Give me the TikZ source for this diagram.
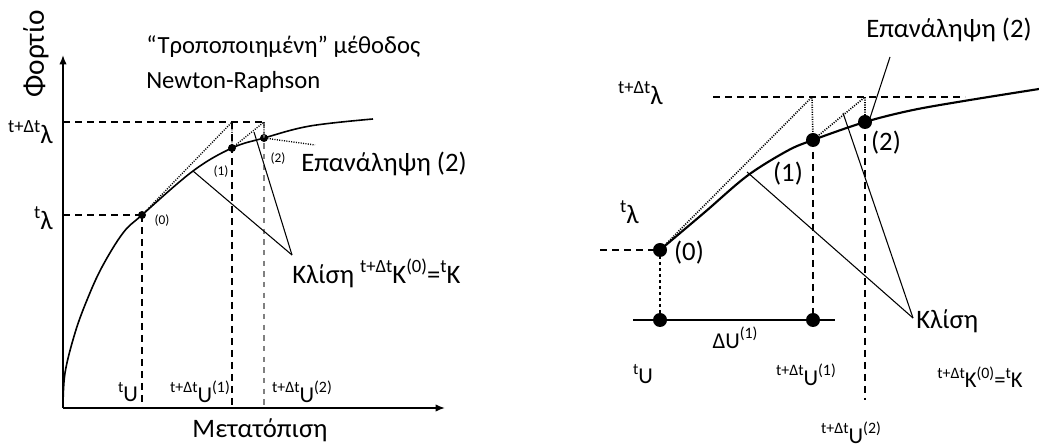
\documentclass[tikz,border=0pt]{standalone}
\usepackage{fontspec}
\setmainfont{Carlito}
\usetikzlibrary{arrows.meta}
\newcommand\sps[1]{\raisebox{0.42em}{\scalebox{0.7}{#1}}}
\begin{document}
\begin{tikzpicture}[x=0.75pt,y=-0.75pt,
  axisline/.style={line width=1.1pt,-{Latex[length=7pt,width=5.5pt]}},
  curveline/.style={line width=1.2pt},
  dsh/.style={line width=1pt,dash pattern=on 5pt off 4pt},
  dshlight/.style={line width=0.8pt,gray,dash pattern=on 4pt off 4pt},
  dotline/.style={line width=1pt,dash pattern=on 0.8pt off 1pt},
  shortdsh/.style={line width=1.4pt,dash pattern=on 2.5pt off 2pt},
  leader/.style={line width=0.8pt},
  dotS/.style={circle,fill,inner sep=0pt,minimum size=6pt},
  dotL/.style={circle,fill,inner sep=0pt,minimum size=10.5pt},
  big/.style={inner sep=0pt,font=\fontsize{20}{22}\selectfont},
  titl/.style={inner sep=0pt,font=\fontsize{18.5}{20}\selectfont},
  axlab/.style={inner sep=0pt,font=\fontsize{22}{24}\selectfont},
  small/.style={inner sep=0pt,font=\fontsize{10}{12}\selectfont},
  rsmall/.style={inner sep=0pt,font=\fontsize{17}{19}\selectfont}]
\useasboundingbox (0,0) rectangle (1039,448);

% ---------------- left plot ----------------
\coordinate (O) at (63,408);
\coordinate (Ytop) at (63,55);
\coordinate (Xend) at (445,408);
\coordinate (Lt) at (63,215);
\coordinate (Lttop) at (63,122);
\coordinate (Ltend) at (266,122);
\coordinate (B0) at (142,408);
\coordinate (B1) at (232,408);
\coordinate (B2) at (264,408);
\coordinate (T1) at (232,122);
\coordinate (T2) at (264,122);
\coordinate (D2) at (315,145);
\coordinate (K) at (292,255);
\coordinate (Ka) at (193,171);
\coordinate (Kb) at (254,132);

\draw[axisline] (O) -- (Ytop);
\draw[axisline] (O) -- (Xend);
\draw[curveline] plot[smooth,tension=0.6] coordinates {(63,408) (65,373) (75,333) (87,300) (102,267) (123,233) (142,215) (193,171) (232,148) (264,138) (310,126) (373,119)};

\node[dotS] (P0) at (142,215) {};
\node[dotS] (P1) at (232,148) {};
\node[dotS] (P2) at (264,138) {};

\draw[dsh] (Lttop) -- (Ltend);
\draw[dsh] (Lt) -- (P0.center);
\draw[dsh] (P0.center) -- (B0);
\draw[dsh] (T1) -- (B1);
\draw[dshlight] (T2) -- (B2);
\draw[dotline] (P0.center) -- (T1) -- (P1.center) -- (T2) -- (P2.center) -- (D2);
\draw[leader] (K) -- (Ka);
\draw[leader] (K) -- (Kb);

\node[rotate=90,axlab] (fort) at (36,54) {Φορτίο};
\node[titl,anchor=west] (tit1) at (146,47) {“Τροποποιημένη” μέθοδος};
\node[titl,anchor=west] (tit2) at (146,82) {Newton-Raphson};
\node[big,anchor=east] (lamL1) at (53,132) {\sps{t+Δt}λ};
\node[big,anchor=east] (lamL0) at (53,218) {\sps{t}λ};
\node[small] (l0) at (162,221) {(0)};
\node[small] (l1) at (221,172) {(1)};
\node[small] (l2) at (278,159) {(2)};
\node[big,anchor=west] (itL) at (301,164) {Επανάληψη (2)};
\node[big,anchor=west] (kL) at (292,273) {Κλίση \sps{t+Δt}K\sps{(0)}=\sps{t}K};
\node[rsmall] (uL0) at (128,392) {\sps{t}U};
\node[rsmall] (uL1) at (200,392) {\sps{t+Δt}U\sps{(1)}};
\node[rsmall] (uL2) at (302,392) {\sps{t+Δt}U\sps{(2)}};
\node[big] (xl) at (260,430) {Μετατόπιση};

% ---------------- right plot ----------------
\coordinate (Rlt) at (713,97);
\coordinate (Rltend) at (965,97);
\coordinate (Rl0) at (600,250);
\coordinate (RT1) at (812,97);
\coordinate (RT2) at (865,97);
\coordinate (Hl) at (633,320);
\coordinate (Hr) at (835,320);
\coordinate (RB2) at (865,400);
\coordinate (RK) at (913,318);
\coordinate (RKa) at (747,172);
\coordinate (RKb) at (843,113);
\coordinate (Eb) at (870,118);
\coordinate (Et) at (890,57);

\draw[curveline,line width=1.6pt] plot[smooth,tension=0.55] coordinates {(660,250) (705,212) (747,176) (787,151) (813,140) (865,122) (913,110) (970,100) (1039,89)};

\node[dotL] (R0) at (660,250) {};
\node[dotL] (R1) at (813,140) {};
\node[dotL] (R2) at (865,122) {};
\node[dotL] (S0) at (660,320) {};
\node[dotL] (S1) at (813,320) {};

\draw[dsh] (Rlt) -- (Rltend);
\draw[dsh] (Rl0) -- (R0.center);
\draw[shortdsh] (R0.center) -- (S0.center);
\draw[dsh,line width=1.3pt] (R1.center) -- (S1.center);
\draw[dsh,line width=1.3pt] (R2.center) -- (RB2);
\draw[dotline,line width=1.2pt] (R0.center) -- (RT1) -- (R1.center) -- (RT2) -- (R2.center);
\draw[line width=1pt] (Hl) -- (Hr);
\draw[leader] (RK) -- (RKa);
\draw[leader] (RK) -- (RKb);
\draw[leader] (Eb) -- (Et);

\node[big,anchor=west] (itR) at (866,30) {Επανάληψη (2)};
\node[big,anchor=east] (lamR1) at (663,93) {\sps{t+Δt}λ};
\node[big,anchor=east] (lamR0) at (639,212) {\sps{t}λ};
\node[big] (r0) at (689,253) {(0)};
\node[big] (r1) at (788,174) {(1)};
\node[big] (r2) at (886,143) {(2)};
\node[rsmall] (du) at (735,338) {ΔU\sps{(1)}};
\node[big,anchor=west] (kR) at (916,321) {Κλίση};
\node[rsmall] (uR0) at (643,374) {\sps{t}U};
\node[rsmall] (uR1) at (806,375) {\sps{t+Δt}U\sps{(1)}};
\node[rsmall] (kR2) at (980,377) {\sps{t+Δt}K\sps{(0)}=\sps{t}K};
\node[rsmall] (uR2) at (851,433) {\sps{t+Δt}U\sps{(2)}};
\end{tikzpicture}
\end{document}
